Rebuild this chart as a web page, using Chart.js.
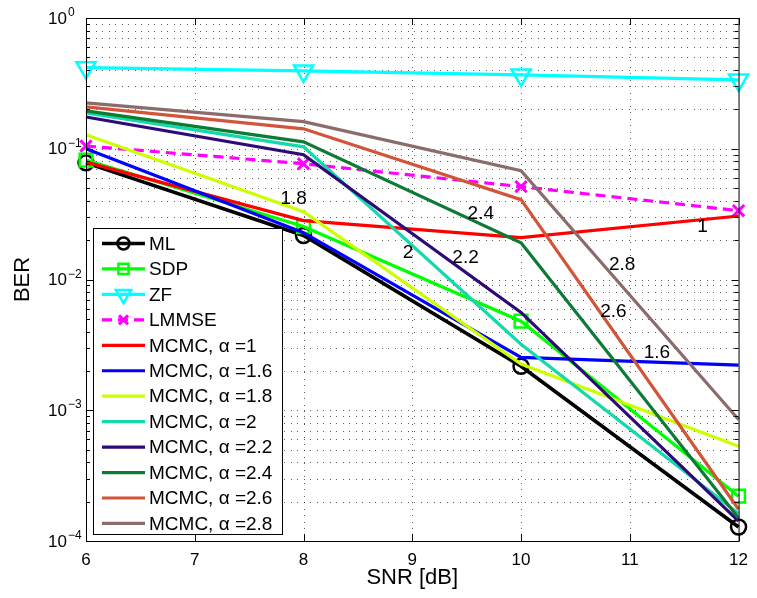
<!DOCTYPE html>
<html>
<head>
<meta charset="utf-8">
<script src="https://cdn.jsdelivr.net/npm/chart.js@4.4.1/dist/chart.umd.min.js"></script>
<style>
  body { margin: 0; background: #fff; }
  #wrap { width: 757px; height: 598px; }
</style>
</head>
<body>
<div id="wrap"><canvas id="grafik" width="757" height="598"></canvas></div>
<script>
// data (BER vs SNR)
const snr = [6, 8, 10, 12];
const berML = [0.078, 0.0217, 0.00217, 1.28e-4];
const berSDP = [0.082, 0.0254, 0.0048, 2.2e-4];
const berZF = [0.417, 0.394, 0.367, 0.336];
const berLMMSE = [0.105, 0.0768, 0.0513, 0.0336];
const mcmc10 = [0.079, 0.0282, 0.0209, 0.0306];
const mcmc16 = [0.100, 0.0228, 0.00254, 0.00221];
const mcmc18 = [0.128, 0.033, 0.00226, 5.3e-4];
const mcmc20 = [0.188, 0.1035, 0.0032, 1.62e-4];
const mcmc22 = [0.175, 0.090, 0.0056, 1.42e-4];
const mcmc24 = [0.195, 0.113, 0.0191, 1.5e-4];
const mcmc26 = [0.209, 0.142, 0.0408, 1.75e-4];
const mcmc28 = [0.224, 0.161, 0.068, 8.5e-4];

const alphas = ['1', '1.6', '1.8', '2', '2.2', '2.4', '2.6', '2.8'];
const mcmcSeries = [mcmc10, mcmc16, mcmc18, mcmc20, mcmc22, mcmc24, mcmc26, mcmc28];
const mcmcColors = ['#ff0000', '#0000ff', '#ccff00', '#14d9aa', '#2e0a78', '#0d7a36', '#d2553a', '#8c6b6b'];

// curve labels placed in data coordinates
const noteText = ['1.8', '2', '2.2', '2.4', '1', '2.8', '2.6', '1.6'];
const noteX = [7.91, 8.96, 9.49, 9.63, 11.67, 10.93, 10.85, 11.25];
const noteY = [0.0415, 0.0161, 0.0147, 0.0319, 0.0254, 0.013, 0.0057, 0.00277];

const yDecades = [1, 0.1, 0.01, 0.001, 0.0001];
const xTicks = [6, 7, 8, 9, 10, 11, 12];

const FONT = '"Liberation Sans", Arial, Helvetica, sans-serif';

function pts(vals) {
    return vals.map((v, i) => ({ x: snr[i], y: v }));
}

function garis(label, vals, color, extra) {
    return Object.assign({
        label: label,
        data: pts(vals),
        borderColor: color,
        backgroundColor: 'rgba(0,0,0,0)',
        borderWidth: 3.2,
        pointRadius: 0,
        pointBorderWidth: 2.5,
        pointBorderColor: color,
        pointBackgroundColor: 'rgba(0,0,0,0)',
        tension: 0,
        clip: false
    }, extra || {});
}

const datasets = [
    garis('ML', berML, '#000000', { pointStyle: 'circle', pointRadius: 7.5, borderWidth: 3.6 }),
    garis('SDP', berSDP, '#00ff00', { pointStyle: 'rect', pointRadius: 9 }),
    garis('ZF', berZF, '#00ffff', { pointStyle: 'triangle', pointRotation: 180, pointRadius: 11 }),
    garis('LMMSE', berLMMSE, '#ff00ff', { pointStyle: 'crossRot', pointRadius: 8, pointBorderWidth: 3, borderDash: [10, 6] })
];
mcmcSeries.forEach((s, i) => {
    datasets.push(garis('MCMC, α =' + alphas[i], s, mcmcColors[i]));
});
// later series on top, like MATLAB hold on
datasets.forEach((d, i) => { d.order = -i; });

function yTickList() {
    const list = [];
    for (let e = -4; e <= 0; e++) {
        const base = Math.pow(10, e);
        const top = e === 0 ? 1 : 9;
        for (let m = 1; m <= top; m++) list.push(+(m * base).toPrecision(3));
    }
    return list;
}

function isDecade(v) {
    return Math.abs(Math.log10(v) - Math.round(Math.log10(v))) < 1e-6;
}

// dotted MATLAB-style grid, drawn under the curves
const gridTitik = {
    id: 'gridTitik',
    beforeDatasetsDraw(chart) {
        const { ctx, chartArea: a, scales: { x, y } } = chart;
        ctx.save();
        ctx.fillStyle = 'rgba(40,40,40,0.75)';
        y.ticks.forEach(t => {
            const py = Math.round(y.getPixelForValue(t.value));
            if (py <= a.top + 1 || py >= a.bottom - 1) return;
            for (let px = a.left + 3; px < a.right - 1; px += 6.5) ctx.fillRect(Math.round(px), py, 1, 1);
        });
        x.ticks.forEach(t => {
            const px = Math.round(x.getPixelForValue(t.value));
            if (px <= a.left + 1 || px >= a.right - 1) return;
            for (let py = a.top + 3; py < a.bottom - 1; py += 6.5) ctx.fillRect(px, Math.round(py), 1, 1);
        });
        ctx.restore();
    }
};

const hiasan = {
    id: 'hiasan',
    afterDraw(chart) {
        const { ctx, chartArea: a, scales: { x, y } } = chart;
        ctx.save();

        // frame
        ctx.strokeStyle = '#000';
        ctx.lineWidth = 1;
        ctx.strokeRect(a.left + 0.5, a.top + 0.5, a.right - a.left, a.bottom - a.top);

        // inward ticks
        ctx.beginPath();
        y.ticks.forEach(t => {
            const py = Math.round(y.getPixelForValue(t.value)) + 0.5;
            const len = isDecade(t.value) ? 7 : 4;
            ctx.moveTo(a.left, py); ctx.lineTo(a.left + len, py);
            ctx.moveTo(a.right, py); ctx.lineTo(a.right - len, py);
        });
        x.ticks.forEach(t => {
            const px = Math.round(x.getPixelForValue(t.value)) + 0.5;
            ctx.moveTo(px, a.bottom); ctx.lineTo(px, a.bottom - 7);
            ctx.moveTo(px, a.top); ctx.lineTo(px, a.top + 7);
        });
        ctx.stroke();

        // y tick labels 10^e
        ctx.fillStyle = '#000';
        yDecades.forEach(v => {
            const py = y.getPixelForValue(v);
            const e = Math.round(Math.log10(v));
            ctx.font = '17px ' + FONT;
            ctx.textAlign = 'right';
            ctx.textBaseline = 'middle';
            ctx.fillText('10', 67, py + 1);
            ctx.font = '12px ' + FONT;
            ctx.textAlign = 'left';
            ctx.textBaseline = 'alphabetic';
            ctx.fillText(e === 0 ? '0' : '\u2212' + (-e), 68, py - 2);
        });

        // curve labels
        ctx.font = '19px ' + FONT;
        ctx.textAlign = 'center';
        ctx.textBaseline = 'middle';
        noteText.forEach((t, i) => {
            ctx.fillText(t, x.getPixelForValue(noteX[i]), y.getPixelForValue(noteY[i]));
        });

        // legend box
        const lx = 93, ly = 228, lw = 189, lh = 306;
        ctx.fillStyle = '#fff';
        ctx.fillRect(lx, ly, lw, lh);
        ctx.strokeStyle = '#000';
        ctx.lineWidth = 1;
        ctx.strokeRect(lx + 0.5, ly + 0.5, lw, lh);
        chart.data.datasets.forEach((d, i) => {
            const ry = 243.5 + i * 25.45;
            ctx.save();
            ctx.strokeStyle = d.borderColor;
            ctx.lineWidth = d.borderWidth;
            ctx.setLineDash(d.borderDash || []);
            ctx.beginPath();
            ctx.moveTo(102, ry); ctx.lineTo(145, ry);
            ctx.stroke();
            ctx.setLineDash([]);
            if (d.pointRadius > 0 && Chart.helpers && Chart.helpers.drawPoint) {
                ctx.fillStyle = 'rgba(0,0,0,0)';
                ctx.lineWidth = d.pointBorderWidth;
                Chart.helpers.drawPoint(ctx, {
                    pointStyle: d.pointStyle,
                    rotation: d.pointRotation || 0,
                    radius: d.pointRadius * 0.8,
                    borderWidth: d.pointBorderWidth
                }, 123.5, ry);
            }
            ctx.restore();
            ctx.fillStyle = '#000';
            ctx.font = '19px ' + FONT;
            ctx.textAlign = 'left';
            ctx.textBaseline = 'middle';
            ctx.fillText(d.label, 149, ry + 1);
        });

        ctx.restore();
    }
};

new Chart(document.getElementById('grafik'), {
    type: 'line',
    data: { datasets: datasets },
    options: {
        responsive: false,
        animation: false,
        events: [],
        layout: { padding: { top: 18, right: 7, left: 0, bottom: 0 } },
        plugins: { legend: { display: false }, tooltip: { enabled: false } },
        scales: {
            x: {
                type: 'linear',
                min: 6,
                max: 12,
                afterBuildTicks: (s) => { s.ticks = xTicks.map(v => ({ value: v })); },
                afterFit: (s) => { s.height = 57; },
                grid: { display: false, drawTicks: false },
                border: { display: false },
                ticks: {
                    color: '#000',
                    font: { family: FONT, size: 17 },
                    padding: 9,
                    maxRotation: 0,
                    callback: (v) => String(v)
                },
                title: {
                    display: true,
                    text: 'SNR [dB]',
                    color: '#000',
                    font: { family: FONT, size: 22 },
                    padding: { top: 0, bottom: 7 }
                }
            },
            y: {
                type: 'logarithmic',
                min: 1e-4,
                max: 1,
                afterBuildTicks: (s) => { s.ticks = yTickList().map(v => ({ value: v })); },
                afterFit: (s) => { s.width = 86; },
                grid: { display: false, drawTicks: false },
                border: { display: false },
                ticks: { display: false },
                title: {
                    display: true,
                    text: 'BER',
                    color: '#000',
                    font: { family: FONT, size: 22 },
                    padding: { top: 10, bottom: 0 }
                }
            }
        }
    },
    plugins: [gridTitik, hiasan]
});
</script>
</body>
</html>
